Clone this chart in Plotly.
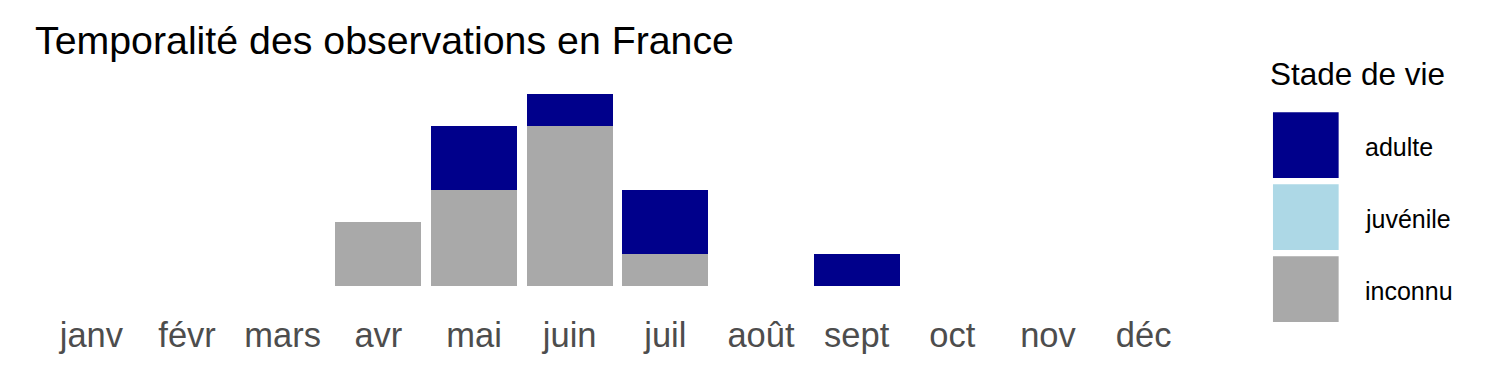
import plotly.graph_objects as go

months = ["janv", "févr", "mars", "avr", "mai", "juin", "juil", "août", "sept", "oct", "nov", "déc"]
adulte = [0, 0, 0, 0, 2, 1, 2, 0, 1, 0, 0, 0]
juvenile = [0, 0, 0, 0, 0, 0, 0, 0, 0, 0, 0, 0]
inconnu = [0, 0, 0, 2, 3, 5, 1, 0, 0, 0, 0, 0]
stages = ["adulte", "juvénile", "inconnu"]
colors = {"adulte": "#00008B", "juvénile": "#ADD8E6", "inconnu": "#A9A9A9"}

W, H = 1500, 375
L, R, T, B = 33.5, 1201, 83.8, 295.7
PW, PH = R - L, B - T

def px(x):
    return (x - L) / PW

def py(y):
    return (B - y) / PH

fig = go.Figure()
# stacking order: inconnu at bottom, then juvénile, then adulte
for name, vals in [("inconnu", inconnu), ("juvénile", juvenile), ("adulte", adulte)]:
    fig.add_trace(go.Bar(x=months, y=vals, name=name, marker=dict(color=colors[name], line=dict(width=0)),
                         showlegend=False))

shapes = []
annotations = []
key_tops = [112, 184, 256]
for name, top in zip(stages, key_tops):
    shapes.append(dict(type="rect", xref="paper", yref="paper", x0=px(1273), x1=px(1338.7),
                       y0=py(top + 65.7), y1=py(top), fillcolor=colors[name], line=dict(width=0), layer="above"))
    annotations.append(dict(text=name, xref="paper", yref="paper", x=px(1363), y=py(top + 35),
                            xanchor="left", yanchor="middle", showarrow=False,
                            font=dict(family="Liberation Sans, Arial", size=25, color="#000000")))
annotations.append(dict(text="Stade de vie", xref="paper", yref="paper", x=px(1268), y=py(74),
                        xanchor="left", yanchor="middle", showarrow=False,
                        font=dict(family="Liberation Sans, Arial", size=31.5, color="#000000")))

fig.update_layout(
    barmode="stack",
    bargap=0.1,
    width=W, height=H,
    margin=dict(l=L, r=W - R, t=T, b=H - B, pad=0),
    paper_bgcolor="white", plot_bgcolor="white",
    title=dict(text="Temporalité des observations en France", x=35 / W, xanchor="left",
               y=1 - 40 / H, yanchor="middle", yref="container", xref="container",
               font=dict(family="Liberation Sans, Arial", size=39.3, color="#000000")),
    xaxis=dict(type="category", categoryorder="array", categoryarray=months, range=[-0.6, 11.6],
               showgrid=False, zeroline=False, showline=False, ticks="outside", ticklen=9,
               tickcolor="rgba(0,0,0,0)",
               tickfont=dict(family="Liberation Sans, Arial", size=34.5, color="#4D4D4D")),
    yaxis=dict(range=[-0.3, 6.3], showgrid=False, zeroline=False, showline=False, showticklabels=False,
               ticks=""),
    shapes=shapes,
    annotations=annotations,
    showlegend=False,
)

fig.write_html("out.html")
